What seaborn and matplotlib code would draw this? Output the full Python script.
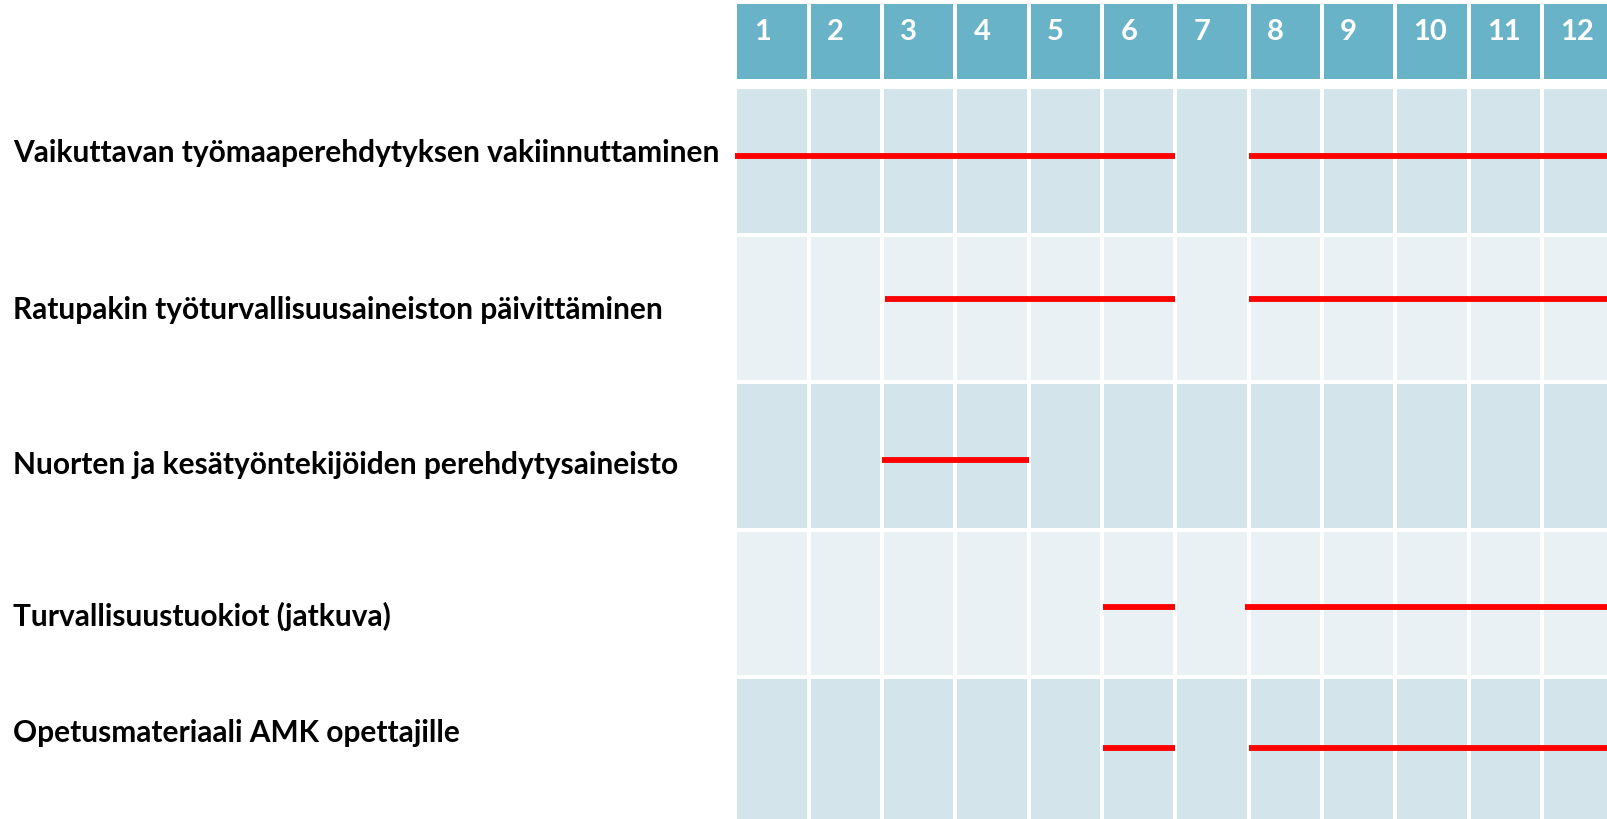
import numpy as np
import pandas as pd
import seaborn as sns
import matplotlib.pyplot as plt
from matplotlib.colors import ListedColormap
from matplotlib.transforms import blended_transform_factory

plt.rcParams['font.family'] = ['Lato', 'DejaVu Sans']

# tehtävät ja kuukaudet
tasks = ['Vaikuttavan työmaaperehdytyksen vakiinnuttaminen',
         'Ratupakin työturvallisuusaineiston päivittäminen',
         'Nuorten ja kesätyöntekijöiden perehdytysaineisto',
         'Turvallisuustuokiot (jatkuva)',
         'Opetusmateriaali AMK opettajille']
months = [str(m) for m in range(1, 13)]

# janat: rivi, alku, loppu (kuukausina, 0 = kuukauden 1 alku)
seg_task = [0, 0, 1, 1, 2, 3, 3, 4, 4]
seg_start = [0, 7, 2.04, 7, 2, 5.02, 6.95, 5.02, 7]
seg_end = [6, 12, 6, 12, 4, 6, 12, 6, 12]
# janan korkeus rivin sisällä
seg_lane = [0.47, 0.44, 0.53, 0.525, 0.48]
# otsikkotekstien korkeus rivin sisällä
label_lane = [0.45, 0.51, 0.56, 0.59, 0.38]

header_col = '#69b3c8'
dark_row = '#d4e4eb'
light_row = '#e9f1f5'

W, H = 1608, 819
fig = plt.figure(figsize=(W / 100, H / 100), dpi=100)

col_w = 73.3
left = 735.5
ax_h = fig.add_axes([left / W, 1 - 81 / H, 12 * col_w / W, 79 / H])
ax = fig.add_axes([left / W, 1 - (87 + 5 * 147.5) / H, 12 * col_w / W, 5 * 147.5 / H])

# otsikkorivi
head = pd.DataFrame([np.zeros(12)], columns=months)
sns.heatmap(head, cmap=ListedColormap([header_col]), cbar=False, linewidths=1.5,
            linecolor='white', xticklabels=False, yticklabels=False, ax=ax_h)
for i, m in enumerate(months):
    ax_h.text(i + 0.25, 0.38, m, color='white', fontsize=21, fontweight='bold',
              ha='left', va='center')

# rivit vuorotellen tumma / vaalea
shade = pd.DataFrame([[i % 2] * 12 for i in range(len(tasks))], index=tasks, columns=months)
sns.heatmap(shade, cmap=ListedColormap([dark_row, light_row]), cbar=False, linewidths=1.5,
            linecolor='white', xticklabels=False, yticklabels=False, ax=ax)

ys = [seg_task[k] + seg_lane[seg_task[k]] for k in range(len(seg_task))]
ax.hlines(ys, seg_start, seg_end, color='#ff0000', linewidth=4.2, capstyle='butt')

trans = blended_transform_factory(fig.transFigure, ax.transData)
for i, t in enumerate(tasks):
    ax.text(13 / W, i + label_lane[i], t, transform=trans, fontsize=21.5,
            fontweight='bold', ha='left', va='center', color='black')

fig.savefig('out.png', dpi=100)
